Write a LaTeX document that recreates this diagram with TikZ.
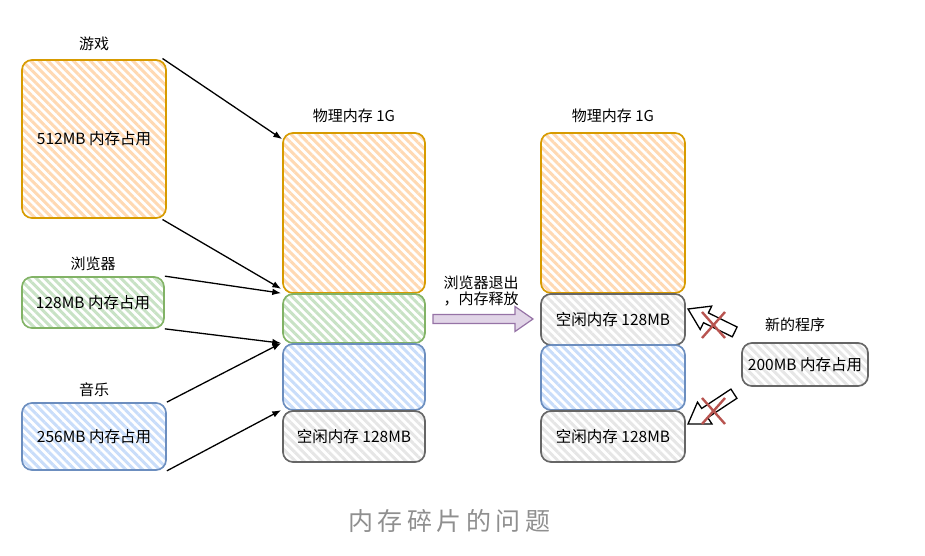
\documentclass[tikz,border=0pt]{standalone}
\usepackage{fontspec}
\setmainfont{Noto Sans CJK SC}
\usetikzlibrary{arrows.meta,calc,positioning,patterns.meta}

\definecolor{gameline}{HTML}{D79B00}
\definecolor{gamefill}{HTML}{FFD9B3}
\definecolor{webline}{HTML}{82B366}
\definecolor{webfill}{HTML}{C8E2C5}
\definecolor{musicline}{HTML}{6C8EBF}
\definecolor{musicfill}{HTML}{C9DDFA}
\definecolor{freeline}{HTML}{666666}
\definecolor{freefill}{HTML}{E6E6E6}
\definecolor{moveline}{HTML}{9673A6}
\definecolor{movefill}{HTML}{E1D5E7}
\definecolor{crossline}{HTML}{B85450}
\definecolor{captiongray}{HTML}{8F8F8F}

\begin{document}
\begin{tikzpicture}[
    >=Latex,
    x=1pt,
    y=-1pt,
    font=\fontsize{15}{17}\selectfont,
    blk/.style={rounded corners=10pt, line width=1.7pt, inner sep=0pt,
        align=center, font=\fontsize{15.5}{17}\selectfont},
    hatch/.style={pattern={Lines[angle=-45,distance=6pt,line width=3pt]},
        pattern color=#1},
    gameblk/.style={blk, draw=gameline, hatch=gamefill},
    webblk/.style={blk, draw=webline, hatch=webfill},
    musicblk/.style={blk, draw=musicline, hatch=musicfill},
    freeblk/.style={blk, draw=freeline, hatch=freefill},
    link/.style={->, line width=1.3pt},
    hollow/.style={draw, line width=1.3pt, fill=white, line join=miter},
    nope/.style={draw=crossline, line width=2.4pt}
]

\useasboundingbox (0,0) rectangle (925,556);

% Programs
\node[gameblk, minimum width=144pt, minimum height=158pt]
    (game) at (94,139) {512MB 内存占用};
\node[above=4pt of game] (gametitle) {游戏};

\node[webblk, minimum width=142pt, minimum height=51pt]
    (web) at (93,302.5) {128MB 内存占用};
\node[above=2pt of web] (webtitle) {浏览器};

\node[musicblk, minimum width=144pt, minimum height=67pt]
    (music) at (94,436.5) {256MB 内存占用};
\node[above=2pt of music] (musictitle) {音乐};

% Physical memory, before
\node[gameblk, minimum width=142pt, minimum height=160pt]
    (memgame) at (354,213) {};
\node[webblk, minimum width=142pt, minimum height=49pt]
    (memweb) at (354,318.5) {};
\node[musicblk, minimum width=142pt, minimum height=66pt]
    (memmusic) at (354,377) {};
\node[freeblk, minimum width=142pt, minimum height=51pt]
    (memfree) at (354,436.5) {空闲内存 128MB};
\node[above=6pt of memgame] (memtitle) {物理内存 1G};

% Physical memory, after
\node[gameblk, minimum width=144pt, minimum height=160pt]
    (aftgame) at (613,213) {};
\node[freeblk, minimum width=144pt, minimum height=51pt]
    (aftfreeA) at (613,319.5) {空闲内存 128MB};
\node[musicblk, minimum width=144pt, minimum height=65pt]
    (aftmusic) at (613,377.5) {};
\node[freeblk, minimum width=144pt, minimum height=51pt]
    (aftfreeB) at (613,436.5) {空闲内存 128MB};
\node[above=6pt of aftgame] (afttitle) {物理内存 1G};

% Mapping
\draw[link]
    ([xshift=-5pt]game.north east)
    --
    ([yshift=-7pt]memgame.north west);
\draw[link]
    ([xshift=-5pt]game.south east)
    --
    ([xshift=-1pt,yshift=5pt]memgame.south west);
\draw[link]
    (web.north east)
    --
    ([xshift=-1pt]memweb.north west);
\draw[link]
    (web.south east)
    --
    ([xshift=-1pt]memmusic.north west);
\draw[link]
    (music.north east)
    --
    ([xshift=-1pt]memmusic.north west);
\draw[link]
    (music.south east)
    --
    ([xshift=-1pt]memfree.north west);

% Release
\draw[draw=moveline, fill=movefill, line width=1.2pt]
    (433,314.5) -- (515,314.5) -- (515,306.5) -- (533,319)
    -- (515,331.5) -- (515,323.5) -- (433,323.5) -- cycle;
\node[align=center, font=\fontsize{15}{16}\selectfont] (release) at (481,291)
    {浏览器退出\\，内存释放};

% New program
\node[freeblk, minimum width=126pt, minimum height=43pt]
    (newprog) at (805,364.5) {200MB 内存占用};
\node (newtitle) at (795,325) {新的程序};

\draw[hollow]
    (688,309) -- (711.7,306.1) -- (708.4,312.9) -- (737.1,327.0)
    -- (732.3,336.8) -- (703.5,322.7) -- (700.2,329.5) -- cycle;
\draw[hollow]
    (688,424) -- (711.9,423.9) -- (707.7,417.6) -- (736.9,398.3)
    -- (730.9,389.1) -- (701.7,408.4) -- (697.5,402.1) -- cycle;

\draw[nope] (702,312) -- (725,338);
\draw[nope] (725,312) -- (702,338);
\draw[nope] (702,398) -- (725,424);
\draw[nope] (725,398) -- (702,424);

% Caption
\node[text=captiongray, font=\fontsize{25}{28}\selectfont\addfontfeature{LetterSpace=18}]
    (caption) at (449,521) {内存碎片的问题};

\end{tikzpicture}
\end{document}
